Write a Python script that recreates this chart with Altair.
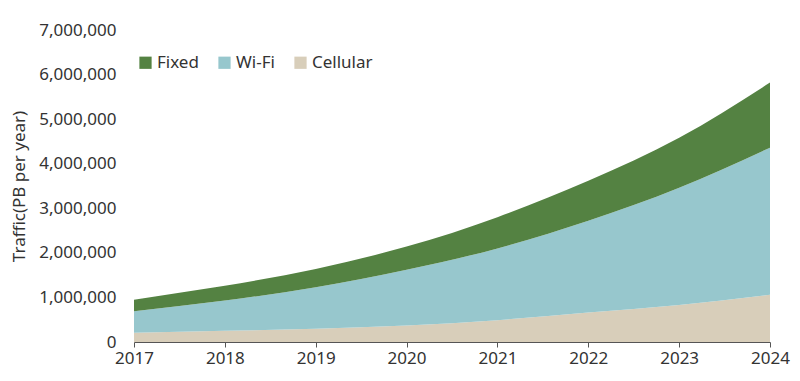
import altair as alt
import pandas as pd

years = [2017, 2018, 2019, 2020, 2021, 2022, 2023, 2024]
cellular = [210000, 250000, 300000, 370000, 490000, 660000, 830000, 1060000]
wifi = [480000, 680000, 930000, 1250000, 1610000, 2060000, 2630000, 3300000]
fixed = [260000, 330000, 410000, 520000, 700000, 900000, 1120000, 1460000]

series_names = ["Fixed", "Wi-Fi", "Cellular"]
series_colors = ["#548242", "#97C7CD", "#D8CEBA"]
stack_rank = {"Cellular": 0, "Wi-Fi": 1, "Fixed": 2}

rows = []
for name, vals in (("Cellular", cellular), ("Wi-Fi", wifi), ("Fixed", fixed)):
    for y, v in zip(years, vals):
        rows.append({"year": y, "series": name, "value": v, "rank": stack_rank[name]})
df = pd.DataFrame(rows)

FONT = "Noto Sans"
TXT = "#333333"

chart = (
    alt.Chart(df)
    .mark_area(interpolate="natural")
    .encode(
        x=alt.X(
            "year:Q",
            scale=alt.Scale(domain=[2017, 2024], nice=False, zero=False),
            axis=alt.Axis(
                values=years,
                format="d",
                title=None,
                grid=False,
                domainColor="#555555",
                tickColor="#555555",
                tickSize=5,
                labelPadding=3,
                labelFlush=False,
                labelFontSize=17,
                labelColor=TXT,
                labelFont=FONT,
            ),
        ),
        y=alt.Y(
            "value:Q",
            stack="zero",
            scale=alt.Scale(domain=[0, 7000000], nice=False),
            axis=alt.Axis(
                values=[0, 1000000, 2000000, 3000000, 4000000, 5000000, 6000000, 7000000],
                format=",d",
                title="Traffic(PB per year)",
                titleFontSize=17,
                titleFontWeight="normal",
                titleColor=TXT,
                titleFont=FONT,
                titlePadding=10,
                grid=False,
                domain=False,
                ticks=False,
                labelPadding=18,
                labelFontSize=17,
                labelColor=TXT,
                labelFont=FONT,
            ),
        ),
        color=alt.Color(
            "series:N",
            scale=alt.Scale(domain=series_names, range=series_colors),
            legend=alt.Legend(
                title=None,
                orient="none",
                direction="horizontal",
                legendX=3,
                legendY=24,
                symbolType="square",
                symbolSize=150,
                symbolStrokeWidth=0,
                symbolOpacity=1,
                labelFontSize=17,
                labelColor=TXT,
                labelFont=FONT,
                labelOffset=3,
                columnPadding=17,
            ),
        ),
        order=alt.Order("rank:Q", sort="ascending"),
    )
    .properties(
        width=636,
        height=312,
        autosize=alt.AutoSizeParams(type="none"),
        padding={"left": 126, "top": 22, "right": 22, "bottom": 31},
    )
    .configure_view(stroke=None)
)

chart.save("out.html", embed_options={"renderer": "svg", "actions": False})
